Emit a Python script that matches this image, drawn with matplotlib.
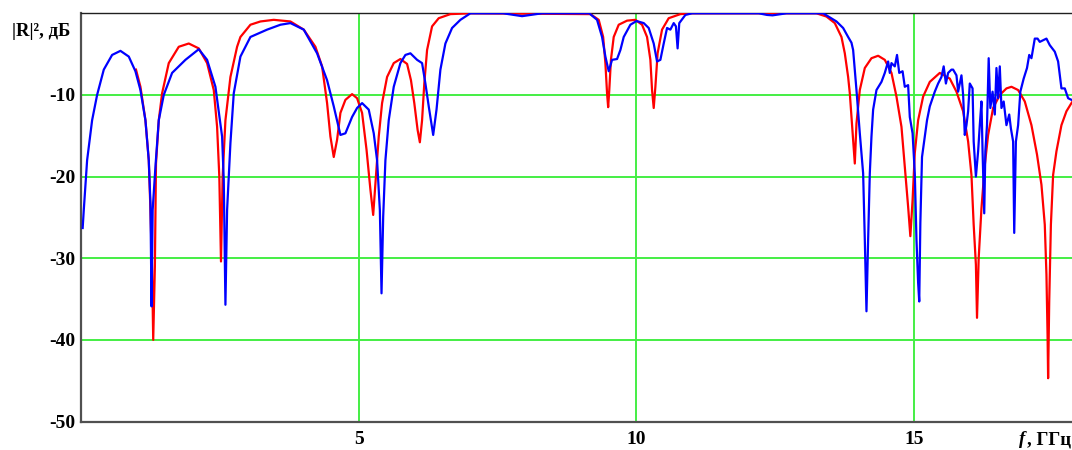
import matplotlib
matplotlib.use("Agg")
import matplotlib.pyplot as plt

# Measured reflection |R|^2, dB versus frequency, GHz
freq_meas = [0.03, 0.05, 0.11, 0.20, 0.29, 0.41, 0.56, 0.71, 0.86, 0.98, 1.07, 1.16, 1.22, 1.25,
             1.27, 1.29, 1.34, 1.40, 1.49, 1.64, 1.88, 2.12, 2.27, 2.42, 2.54, 2.57, 2.60, 2.63,
             2.69, 2.75, 2.87, 3.05, 3.35, 3.59, 3.77, 4.01, 4.25, 4.43, 4.55, 4.67, 4.76, 4.88,
             4.97, 5.06, 5.18, 5.27, 5.33, 5.38, 5.41, 5.44, 5.48, 5.54, 5.63, 5.75, 5.84, 5.93,
             6.05, 6.14, 6.20, 6.26, 6.34, 6.40, 6.47, 6.56, 6.68, 6.83, 7.01, 7.60, 7.80, 7.94,
             8.10, 8.30, 9.15, 9.29, 9.38, 9.44, 9.50, 9.56, 9.65, 9.71, 9.77, 9.89, 10.00, 10.13,
             10.22, 10.31, 10.37, 10.43, 10.49, 10.55, 10.61, 10.67, 10.71, 10.74, 10.77, 10.88,
             11.00, 12.20, 12.35, 12.45, 12.60, 12.70, 13.36, 13.48, 13.60, 13.72, 13.81, 13.87,
             13.90, 13.96, 14.02, 14.08, 14.11, 14.14, 14.17, 14.20, 14.23, 14.26, 14.32, 14.41,
             14.47, 14.53, 14.56, 14.59, 14.65, 14.69, 14.73, 14.79, 14.83, 14.89, 14.92, 14.97,
             15.01, 15.04, 15.07, 15.09, 15.11, 15.14, 15.19, 15.23, 15.28, 15.37, 15.43, 15.49,
             15.53, 15.57, 15.61, 15.67, 15.70, 15.76, 15.79, 15.85, 15.88, 15.91, 15.94, 15.97,
             16.00, 16.05, 16.07, 16.11, 16.15, 16.18, 16.21, 16.23, 16.26, 16.28, 16.31, 16.34,
             16.37, 16.41, 16.45, 16.48, 16.51, 16.54, 16.57, 16.61, 16.66, 16.71, 16.74, 16.78,
             16.80, 16.83, 16.87, 16.91, 16.97, 17.03, 17.07, 17.11, 17.17, 17.22, 17.26, 17.32,
             17.38, 17.44, 17.53, 17.59, 17.65, 17.71, 17.77, 17.83, 17.90]
r_meas = [-26.3, -24.1, -18.0, -13.1, -10.0, -6.9, -5.1, -4.6, -5.3, -7.1, -9.4, -13.1, -18.0, -23.2,
          -35.9, -24.1, -18.8, -13.1, -10.0, -7.3, -5.7, -4.4, -5.7, -9.0, -15.1, -20.4, -35.7, -24.1,
          -15.9, -9.8, -5.3, -2.9, -2.0, -1.4, -1.2, -2.0, -4.9, -8.2, -11.4, -14.9, -14.7, -12.7,
          -11.6, -11.0, -11.8, -14.7, -18.0, -24.1, -34.3, -24.9, -18.0, -13.1, -9.0, -6.1, -5.1, -4.9,
          -5.7, -6.1, -8.6, -11.4, -14.9, -11.8, -6.9, -3.7, -1.8, -0.8, 0.0, 0.0, -0.2, -0.35,
          -0.2, 0.0, 0.0, -0.8, -2.9, -5.3, -7.1, -5.7, -5.6, -4.5, -2.9, -1.4, -0.95, -1.2,
          -1.8, -3.7, -5.9, -5.7, -3.7, -1.8, -2.0, -1.2, -1.6, -4.3, -1.2, -0.2,
          0.0, 0.0, -0.2, -0.25, -0.1, 0.0, 0.0, -0.5, -1.0, -1.8, -2.9, -3.6,
          -4.5, -9.4, -14.7, -19.6, -27.7, -36.5, -27.7, -19.6, -15.1, -11.8, -9.4, -8.4,
          -7.3, -5.9, -7.3, -6.1, -6.5, -5.1, -7.3, -7.1, -9.0, -8.8, -12.7, -14.7,
          -19.6, -27.7, -33.0, -35.3, -25.7, -17.6, -15.1, -13.1, -11.4, -9.6, -8.6, -7.8,
          -6.5, -8.6, -7.3, -6.9, -6.9, -7.6, -9.6, -7.6, -10.0, -14.9, -13.7, -12.0,
          -8.6, -9.2, -15.7, -20.0, -16.9, -13.7, -10.8, -16.9, -24.5, -16.9, -13.7, -5.5,
          -11.6, -9.6, -12.4, -6.7, -10.4, -6.5, -11.6, -10.8, -13.7, -12.4, -14.1, -15.7,
          -26.9, -15.7, -13.7, -9.6, -8.0, -6.7, -5.1, -5.5, -3.1, -3.1, -3.5, -3.3,
          -3.1, -3.9, -4.7, -5.9, -9.2, -9.2, -10.4, -10.6, -10.6]

# Calculated reflection |R|^2, dB versus frequency, GHz
freq_calc = [0.99, 1.07, 1.16, 1.22, 1.25, 1.28, 1.30, 1.33, 1.35, 1.40, 1.46, 1.58, 1.76, 1.94,
             2.12, 2.27, 2.39, 2.45, 2.49, 2.52, 2.55, 2.60, 2.69, 2.81, 2.87, 3.05, 3.23, 3.47,
             3.77, 4.01, 4.22, 4.34, 4.43, 4.49, 4.55, 4.61, 4.67, 4.76, 4.88, 4.97, 5.06, 5.14,
             5.21, 5.26, 5.30, 5.36, 5.42, 5.51, 5.63, 5.75, 5.87, 5.94, 6.00, 6.06, 6.10, 6.14,
             6.18, 6.23, 6.32, 6.44, 6.65, 7.00, 9.17, 9.32, 9.40, 9.44, 9.47, 9.49, 9.51, 9.54,
             9.59, 9.68, 9.83, 9.98, 10.10, 10.19, 10.25, 10.28, 10.31, 10.34, 10.38, 10.46, 10.58,
             10.79, 11.00, 13.24, 13.42, 13.57, 13.69, 13.75, 13.81, 13.84, 13.90, 13.93, 13.96,
             14.02, 14.11, 14.23, 14.35, 14.47, 14.59, 14.68, 14.77, 14.83, 14.89, 14.93, 14.97,
             15.01, 15.07, 15.16, 15.28, 15.46, 15.64, 15.76, 15.88, 15.97, 16.03, 16.07, 16.11,
             16.13, 16.16, 16.21, 16.27, 16.33, 16.42, 16.54, 16.66, 16.75, 16.87, 16.99, 17.11,
             17.21, 17.29, 17.35, 17.38, 17.40, 17.41, 17.43, 17.46, 17.50, 17.56, 17.65, 17.74,
             17.83, 17.90]
r_calc = [-6.9, -9.0, -13.1, -18.0, -24.1, -31.4, -40.0, -31.0, -18.4, -13.1, -9.8, -6.1, -4.1, -3.7,
          -4.3, -6.1, -9.4, -13.9, -20.0, -30.4, -20.0, -13.1, -7.8, -4.1, -2.9, -1.4, -1.0, -0.8,
          -1.0, -2.0, -4.1, -6.5, -11.0, -15.1, -17.6, -15.5, -12.2, -10.6, -9.9, -10.4, -12.2, -16.7,
          -21.6, -24.7, -20.8, -15.1, -11.0, -7.8, -6.1, -5.6, -6.2, -8.2, -11.0, -14.3, -15.8, -13.1,
          -8.6, -4.5, -1.6, -0.6, -0.1, 0.0, -0.1, -0.8, -2.9, -6.1, -9.8, -11.5, -9.4, -5.7,
          -2.9, -1.4, -0.9, -0.8, -1.4, -2.9, -5.7, -9.4, -11.6, -9.0, -4.9, -2.0, -0.6,
          -0.1, 0.0, 0.0, -0.4, -1.2, -2.9, -4.9, -7.8, -9.8, -15.5, -18.4, -13.5,
          -9.4, -6.7, -5.5, -5.2, -5.7, -7.3, -10.2, -13.9, -18.8, -23.7, -27.3, -22.9,
          -17.1, -13.1, -10.2, -8.4, -7.3, -8.0, -9.6, -12.0, -15.7, -19.8, -25.9, -30.8,
          -37.3, -30.0, -23.9, -18.6, -14.9, -11.6, -10.0, -9.2, -9.0, -9.4, -10.8, -13.7,
          -17.3, -21.0, -25.9, -32.0, -39.4, -44.7, -35.3, -25.9, -19.8, -16.9, -13.7, -12.0,
          -11.0, -10.3]

x_ticks = [5, 10, 15]
y_ticks = [-10, -20, -30, -40, -50]

W, H = 1072, 450
fig = plt.figure(figsize=(W / 100, H / 100), dpi=100)
ax = fig.add_axes([81 / W, 1 - 421.5 / H, 1 - 81 / W, (421.5 - 13.3) / H])

ax.plot(freq_calc, r_calc, color="#ff0000", lw=1.6, solid_joinstyle="round", zorder=3)
ax.plot(freq_meas, r_meas, color="#0000ff", lw=1.6, solid_joinstyle="round", zorder=4)

ax.set_xlim(0, 17.84)
ax.set_ylim(-50, 0)

grid_color = "#44ee44"
for xv in x_ticks:
    ax.axvline(xv, color=grid_color, lw=1.4, zorder=1)
for yv in y_ticks[:-1]:
    ax.axhline(yv, color=grid_color, lw=1.4, zorder=1)

ax.set_xticks(x_ticks)
ax.set_yticks(y_ticks)
tick_font = dict(family="Liberation Serif", weight="bold", size=14)
ax.set_xticklabels([str(v) for v in x_ticks], fontdict=tick_font)
ax.set_yticklabels([str(v) for v in y_ticks], fontdict=tick_font)
ax.tick_params(axis="both", length=0)
ax.tick_params(axis="x", pad=7)
ax.tick_params(axis="y", pad=4)

for side in ("left", "bottom"):
    ax.spines[side].set_color("#505050")
    ax.spines[side].set_linewidth(1.6)
ax.spines["top"].set_color("#202020")
ax.spines["top"].set_linewidth(1.0)
ax.spines["right"].set_visible(False)

fig.text(12 / W, 1 - 32 / H, "|R|², дБ", family="Liberation Serif", weight="bold",
         size=13.5, ha="left", va="center")
fig.text(1019 / W, 1 - 440 / H, "f", family="Liberation Serif", weight="bold",
         style="italic", size=13.5, ha="left", va="center")
fig.text(1027 / W, 1 - 440 / H, ", ГГц", family="Liberation Serif", weight="bold",
         size=13.5, ha="left", va="center")

fig.savefig("out.png", dpi=100)
